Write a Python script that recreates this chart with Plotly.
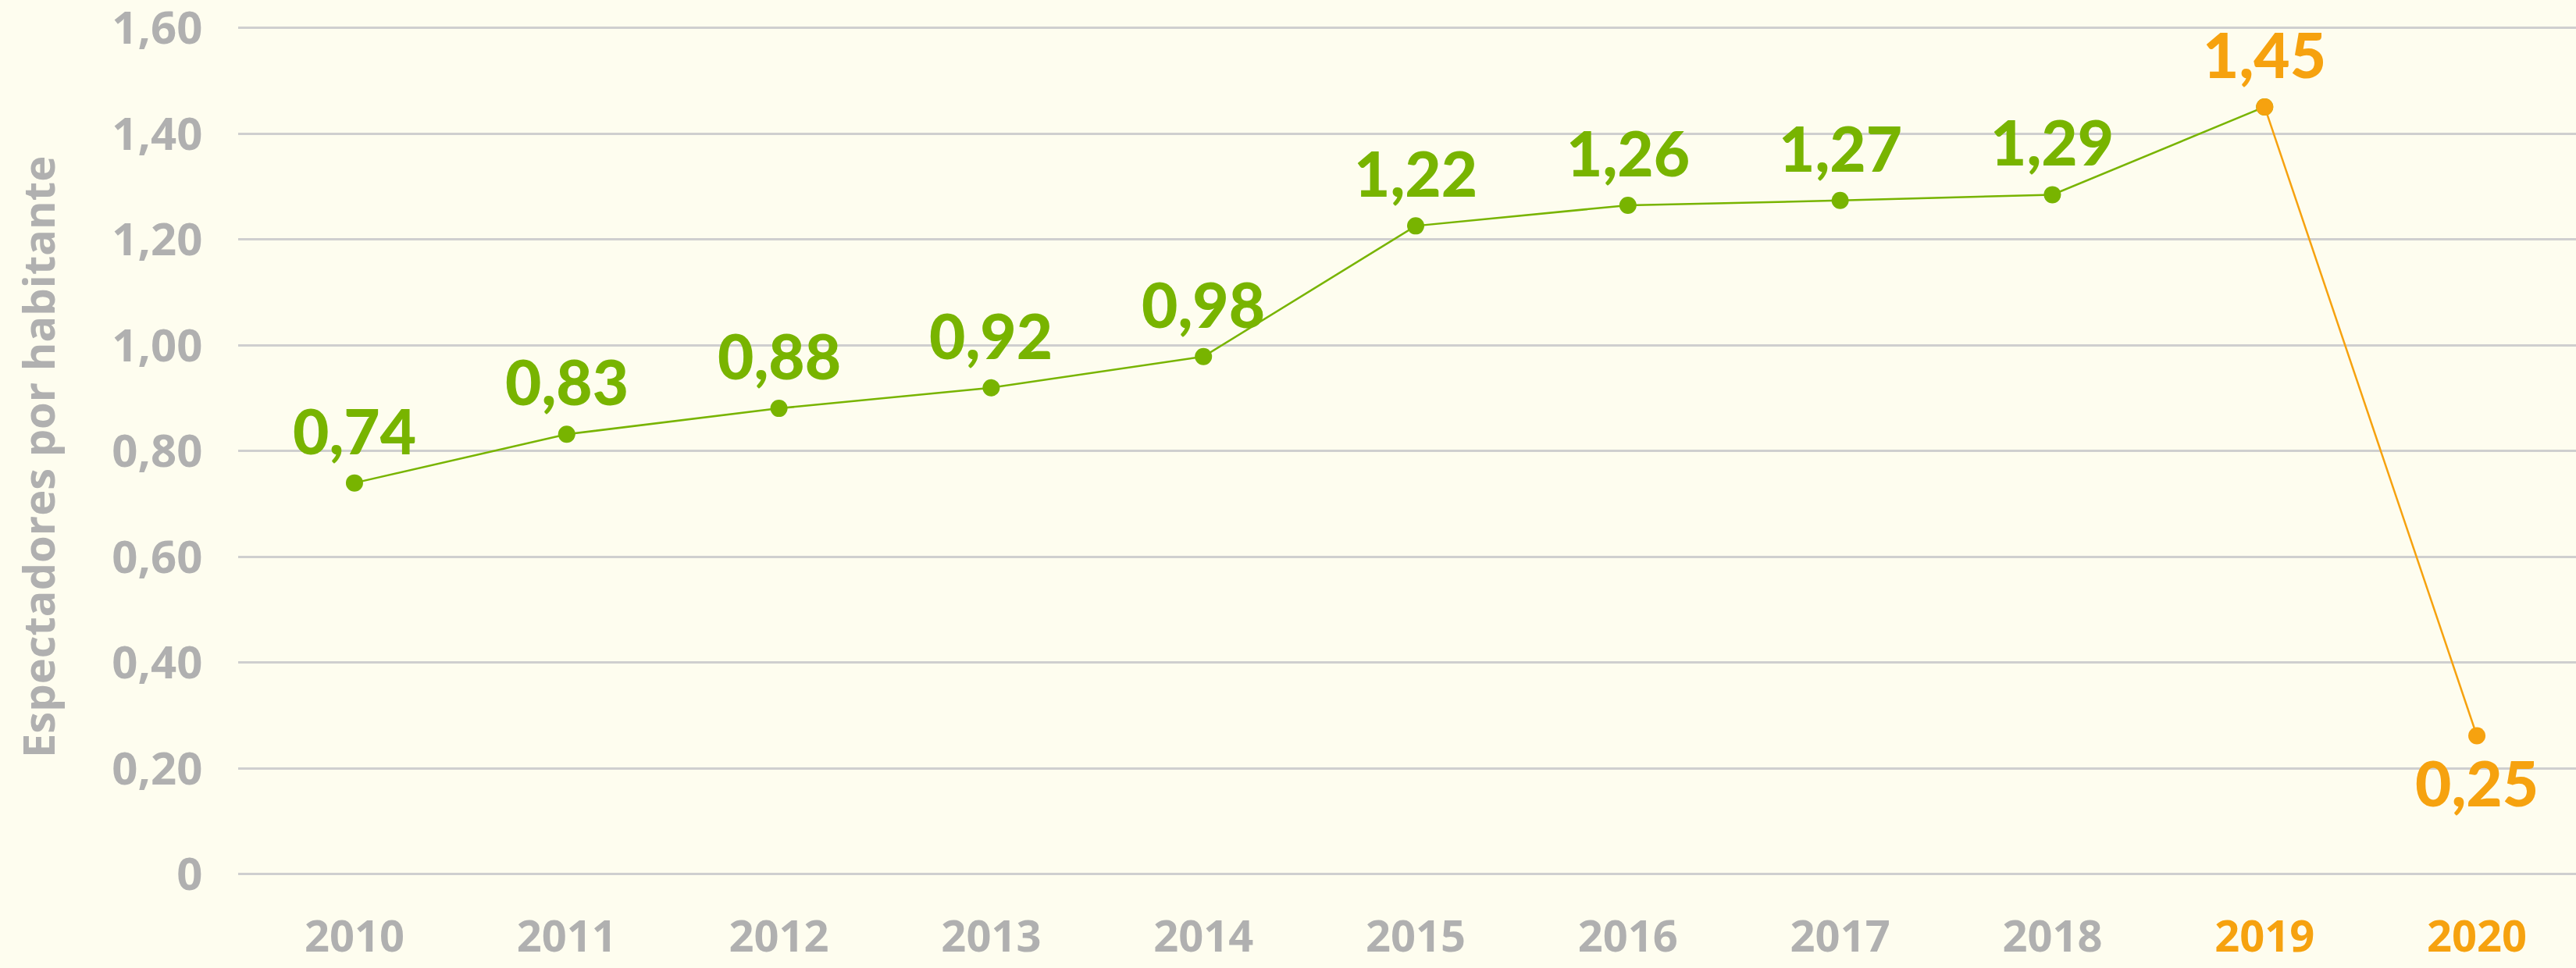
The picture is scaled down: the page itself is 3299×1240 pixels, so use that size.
import plotly.graph_objects as go

years = [2010, 2011, 2012, 2013, 2014, 2015, 2016, 2017, 2018, 2019, 2020]
values = [0.74, 0.832, 0.881, 0.92, 0.979, 1.226, 1.265, 1.274, 1.285, 1.451, 0.262]
labels = ["0,74", "0,83", "0,88", "0,92", "0,98", "1,22", "1,26", "1,27", "1,29", "1,45", "0,25"]
y_ticks = [0, 0.2, 0.4, 0.6, 0.8, 1.0, 1.2, 1.4, 1.6]
y_ticktext = ["0", "0,20", "0,40", "0,60", "0,80", "1,00", "1,20", "1,40", "1,60"]

GREEN = "#78b400"
ORANGE = "#f6a20f"
GRAY = "#b0b0b0"
GRID = "#cfcfcf"
BG = "#fefdef"

n_green = 10  # 2010-2019 drawn in green

fig = go.Figure()
fig.add_trace(go.Scatter(
    x=years[:n_green], y=values[:n_green], mode="lines+markers",
    line=dict(color=GREEN, width=2.5),
    marker=dict(color=GREEN, size=22),
    showlegend=False, hoverinfo="skip"))
fig.add_trace(go.Scatter(
    x=years[n_green - 1:], y=values[n_green - 1:], mode="lines+markers",
    line=dict(color=ORANGE, width=2.5),
    marker=dict(color=ORANGE, size=22),
    showlegend=False, hoverinfo="skip"))

for i, (yr, v, lb) in enumerate(zip(years, values, labels)):
    col = GREEN if i < n_green - 1 else ORANGE
    below = i == len(years) - 1
    fig.add_annotation(
        x=yr, y=v, xref="x", yref="y", text=lb, showarrow=False,
        xanchor="center", yanchor="middle",
        yshift=-60 if below else 68,
        font=dict(family="Lato", size=80, color=col, weight=900))

x_ticktext = []
for i, yr in enumerate(years):
    if i >= n_green - 1:
        x_ticktext.append(f"<span style='color:{ORANGE}'>{yr}</span>")
    else:
        x_ticktext.append(str(yr))

fig.add_annotation(
    text="Espectadores por habitante", textangle=-90, showarrow=False,
    xref="paper", yref="paper", x=(48 - 305) / 2994, y=(1133 - 586) / 1133,
    xanchor="center", yanchor="middle",
    font=dict(family="Open Sans", size=56, color=GRAY, weight=700))

fig.update_layout(
    width=3299, height=1240,
    margin=dict(l=305, r=0, t=0, b=107, autoexpand=False),
    paper_bgcolor=BG, plot_bgcolor=BG,
    showlegend=False,
    xaxis=dict(
        range=[2009.452, 2020.467], tickmode="array", tickvals=years,
        ticktext=x_ticktext, showgrid=False, zeroline=False, showline=False,
        ticks="outside", ticklen=18, tickcolor="rgba(0,0,0,0)",
        ticklabeloverflow="allow", automargin=False,
        tickfont=dict(family="Open Sans", size=56, color=GRAY, weight=700)),
    yaxis=dict(
        range=[-0.0192, 1.6531], tickmode="array", tickvals=y_ticks,
        ticktext=y_ticktext, showgrid=True, gridcolor=GRID, gridwidth=3,
        zeroline=True, zerolinecolor=GRID, zerolinewidth=3, showline=False,
        ticks="outside", ticklen=33, tickcolor="rgba(0,0,0,0)",
        ticklabeloverflow="allow", automargin=False,
        tickfont=dict(family="Open Sans", size=58, color=GRAY, weight=700)),
)

fig.write_html(
    "out.html",
    config={"displayModeBar": False},
    post_script="document.body.style.margin='0';"
                "document.body.style.background='" + BG + "';"
                "document.body.style.overflow='hidden';")
